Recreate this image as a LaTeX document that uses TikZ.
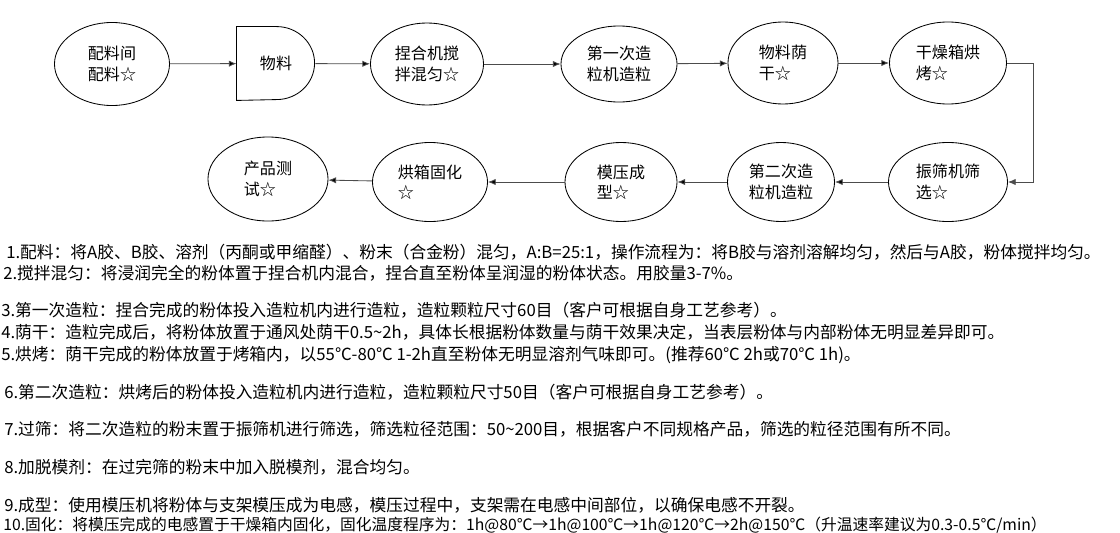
\documentclass[tikz,border=0pt]{standalone}
\usepackage{fontspec}
\usepackage{tikz}
\usetikzlibrary{shapes.geometric, arrows.meta}
\newfontfamily\cjk{Noto Sans CJK SC}

\begin{document}
\begin{tikzpicture}
            [x=0.025cm, y=0.025cm, >={Latex[length=5.5pt,width=4.5pt]},
             proc/.style={shape=ellipse, draw=black, line width=0.6pt, minimum width=2.85cm, minimum height=2.05cm, inner sep=0pt, align=left, font=\cjk\fontsize{11.4}{14.5}\selectfont},
             note/.style={anchor=west, inner sep=0pt, font=\cjk\fontsize{11.9}{14}\selectfont},
             flow/.style={->, draw=black!70, line width=0.6pt}]
            \useasboundingbox (0,0) rectangle (1120,-533);

            % top row
            \node[proc, minimum width=2.875cm, minimum height=2.075cm] (pl) at (112,-64) {配料间\\配料☆};
            \node[proc, shape=rectangle, draw=none, minimum width=1.95cm, minimum height=1.825cm] (wl) at (276,-63.5) {物料};
            \draw[line width=0.6pt] (wl.south west) -- (wl.north west) -- ++(40,0) arc[start angle=90, end angle=-90, x radius=38, y radius=36.5] -- cycle;
            \node[proc, minimum width=2.825cm] (nh) at (427,-64) {捏合机搅\\拌混匀☆};
            \node[proc, minimum width=2.9cm, minimum height=1.9cm] (zl1) at (619,-64) {第一次造\\粒机造粒};
            \node[proc, minimum width=2.75cm] (yg) at (783,-63) {物料荫\\干☆};
            \node[proc, minimum width=2.925cm] (hk) at (948,-63) {干燥箱烘\\烤☆};

            % bottom row
            \node[proc, minimum width=2.975cm, minimum height=1.975cm] (sx) at (948,-182) {振筛机筛\\选☆};
            \node[proc, minimum width=2.675cm, minimum height=1.975cm] (zl2) at (781,-182) {第二次造\\粒机造粒};
            \node[proc, minimum width=2.8cm, minimum height=1.975cm] (my) at (621,-182) {模压成\\型☆};
            \node[proc, minimum width=2.875cm, minimum height=1.975cm] (gh) at (430,-182) {烘箱固化\\☆};
            \node[proc, minimum width=3cm, minimum height=2.1cm] (cs) at (268,-179) {产品测\\试☆};

            \path[flow] (pl) edge (wl);
            \path[flow] (wl) edge (nh);
            \path[flow] (nh) edge (zl1);
            \path[flow] (zl1) edge (yg);
            \path[flow] (yg) edge (hk);
            \draw[flow] (hk.east) -- ++(26,0) |- (sx.east);
            \path[flow] (sx) edge (zl2);
            \path[flow] (zl2) edge (my);
            \path[flow] (my) edge (gh);
            \path[flow] (gh) edge (cs);

            % notes
            \node[note] (t1) at (6,-252) {1.配料：将A胶、B胶、溶剂（丙酮或甲缩醛）、粉末（合金粉）混匀，A:B=25:1，操作流程为：将B胶与溶剂溶解均匀，然后与A胶，粉体搅拌均匀。};
            \node[note] (t2) at (3,-273) {2.搅拌混匀：将浸润完全的粉体置于捏合机内混合，捏合直至粉体呈润湿的粉体状态。用胶量3-7\%。};
            \node[note] (t3) at (1,-310) {3.第一次造粒：捏合完成的粉体投入造粒机内进行造粒，造粒颗粒尺寸60目（客户可根据自身工艺参考）。};
            \node[note] (t4) at (1,-332) {4.荫干：造粒完成后，将粉体放置于通风处荫干0.5\textasciitilde 2h，具体长根据粉体数量与荫干效果决定，当表层粉体与内部粉体无明显差异即可。};
            \node[note] (t5) at (1,-355) {5.烘烤：荫干完成的粉体放置于烤箱内，以55℃-80℃ 1-2h直至粉体无明显溶剂气味即可。(推荐60℃ 2h或70℃ 1h)。};
            \node[note] (t6) at (4,-392) {6.第二次造粒：烘烤后的粉体投入造粒机内进行造粒，造粒颗粒尺寸50目（客户可根据自身工艺参考）。};
            \node[note] (t7) at (4,-429) {7.过筛：将二次造粒的粉末置于振筛机进行筛选，筛选粒径范围：50\textasciitilde 200目，根据客户不同规格产品，筛选的粒径范围有所不同。};
            \node[note] (t8) at (4,-467) {8.加脱模剂：在过完筛的粉末中加入脱模剂，混合均匀。};
            \node[note] (t9) at (4,-505) {9.成型：使用模压机将粉体与支架模压成为电感，模压过程中，支架需在电感中间部位，以确保电感不开裂。};
            \node[note, font=\cjk\fontsize{11.2}{14}\selectfont] (t10) at (3,-525) {10.固化：将模压完成的电感置于干燥箱内固化，固化温度程序为：1h@80℃→1h@100℃→1h@120℃→2h@150℃（升温速率建议为0.3-0.5℃/min）};
        \end{tikzpicture}
\end{document}
